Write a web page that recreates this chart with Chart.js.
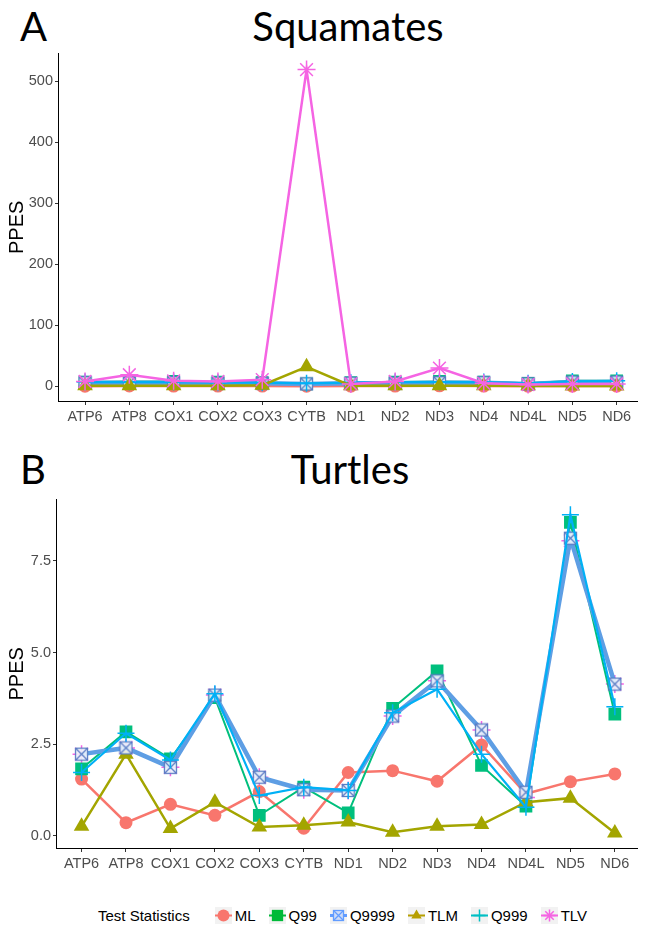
<!DOCTYPE html>
<html>
<head>
<meta charset="utf-8">
<script src="https://cdn.jsdelivr.net/npm/chart.js@4.4.0/dist/chart.umd.min.js"></script>
<style>
body{margin:0;background:#fff;width:648px;height:933px;position:relative;overflow:hidden;font-family:"Liberation Sans",Arial,sans-serif}
.big{position:absolute;font-family:Lato,"Open Sans",sans-serif;font-size:40px;line-height:40px;color:#000;white-space:nowrap}
.box{position:absolute;left:0}
#legend{position:absolute;top:907px;left:98px;display:flex;align-items:center;font-size:15px;color:#000;white-space:nowrap}
#legend .item{display:flex;align-items:center;margin-left:13px}
#legend .item:first-of-type{margin-left:25px}
#legend canvas{margin-right:3px}
</style>
</head>
<body>
<div class="big" style="left:20px;top:6px">A</div>
<div class="big" style="left:348px;top:6px;transform:translateX(-50%)">Squamates</div>
<div class="box" style="top:43px"><canvas id="chartA" width="648" height="389"></canvas></div>
<div class="big" style="left:20px;top:449px">B</div>
<div class="big" style="left:350px;top:449px;transform:translateX(-50%)">Turtles</div>
<div class="box" style="top:489px"><canvas id="chartB" width="648" height="390"></canvas></div>
<div id="legend"><span>Test Statistics</span></div>
<script>
// genes on the x axis
const genes = ['ATP6','ATP8','COX1','COX2','COX3','CYTB','ND1','ND2','ND3','ND4','ND4L','ND5','ND6'];
const yTicksA = [0, 100, 200, 300, 400, 500];
const yTicksB = [0, 2.5, 5, 7.5];

// A - Squamates
const mlA    = [0.3, 0.6, 0.5, 0.4, 0.5, 0.3, 0.4, 0.4, 0.8, 0.5, 0.3, 0.4, 0.4];
const q99A   = [7, 8, 8, 7, 6, 4, 6, 7, 8, 7, 5, 9, 9];
const q9999A = [6, 6, 6, 5, 5, 4, 5, 5, 6, 6, 4, 7, 7];
const tlmA   = [1, 1, 1, 1, 2, 32, 1, 1, 1, 1, 1, 0.5, 0.5];
const q999A  = [7, 7, 7, 6, 6, 5, 6, 7, 7, 7, 5, 8, 9];
const tlvA   = [8, 19, 9, 8, 11, 519, 4, 8, 30, 5, 3, 4, 4];

// B - Turtles
const mlB    = [1.55, 0.36, 0.86, 0.56, 1.21, 0.21, 1.73, 1.78, 1.49, 2.48, 1.15, 1.48, 1.69];
const q99B   = [1.83, 2.84, 2.10, 3.77, 0.56, 1.33, 0.63, 3.48, 4.50, 1.92, 0.81, 8.55, 3.32];
const q9999B = [2.23, 2.40, 1.87, 3.84, 1.60, 1.26, 1.24, 3.27, 4.23, 2.89, 1.19, 8.12, 4.14];
const tlmB   = [0.26, 2.23, 0.20, 0.92, 0.24, 0.29, 0.38, 0.10, 0.26, 0.31, 0.92, 1.03, 0.08];
const q999B  = [1.73, 2.80, 2.07, 3.88, 1.10, 1.33, 1.24, 3.36, 4.00, 2.23, 0.78, 8.76, 3.52];
const tlvB   = [2.23, 2.40, 1.87, 3.84, 1.60, 1.26, 1.24, 3.27, 4.23, 2.89, 1.05, 8.05, 4.14];

function boxX(size, stroke, fill){
    const c = document.createElement('canvas');
    c.width = c.height = size;
    const g = c.getContext('2d');
    g.fillStyle = fill;
    g.fillRect(1, 1, size-2, size-2);
    g.strokeStyle = stroke;
    g.lineWidth = 1.3;
    g.strokeRect(1.5, 1.5, size-3, size-3);
    g.beginPath();
    g.moveTo(2, 2); g.lineTo(size-2, size-2);
    g.moveTo(size-2, 2); g.lineTo(2, size-2);
    g.stroke();
    return c;
}
const boxImg = boxX(15, '#5b7dc4', 'rgba(240,244,252,0.9)');

const series = [
    {name:'ML',    color:'#F8766D', key:'#F8766D', style:'circle',   r:6.5, lw:2.5},
    {name:'Q99',   color:'#00BF7D', key:'#00BA38', style:'rect',     r:9,   lw:2},
    {name:'Q9999', color:'#5E9EE4', key:'#619CFF', style:boxImg,     r:7,   lw:4.5},
    {name:'TLM',   color:'#A3A500', key:'#B79F00', style:'triangle', r:9,   lw:2.5},
    {name:'Q999',  color:'#00B0F6', key:'#00BFC4', style:'cross',    r:8.5, lw:2.2},
    {name:'TLV',   color:'#F564E3', key:'#F564E3', style:'star',     r:9,   lw:2.5}
];

function makeSets(lists, orders, hideLine){
    return series.map((s, k) => ({
        label: s.name,
        data: lists[k].map((v, i) => ({x: i, y: v})),
        borderColor: s.color,
        backgroundColor: s.color,
        borderWidth: s.lw,
        showLine: s.name !== hideLine,
        pointStyle: s.style,
        pointRadius: s.r,
        pointBorderWidth: (s.style === 'cross' || s.style === 'star') ? 1.5 : 0,
        pointBorderColor: s.color,
        pointBackgroundColor: s.color,
        order: orders[k],
        tension: 0
    }));
}

function makeChart(id, sets, xr, yr, yTicks, fmt, yWidth){
    return new Chart(id, {
        type: 'line',
        data: {datasets: sets},
        options: {
            responsive: false,
            animation: false,
            layout: {padding: {top: 0, left: 5, right: 0, bottom: 0}},
            plugins: {legend: {display: false}, tooltip: {enabled: false}},
            scales: {
                x: {
                    type: 'linear', min: xr[0], max: xr[1],
                    afterBuildTicks: s => { s.ticks = genes.map((g, i) => ({value: i})); },
                    afterFit: s => { s.height = 31; },
                    ticks: {callback: v => genes[v], color: '#4d4d4d', font: {size: 14.5}, autoSkip: false, maxRotation: 0, padding: 3},
                    grid: {drawOnChartArea: false, tickLength: 4, color: '#333'},
                    border: {color: '#000', width: 1}
                },
                y: {
                    min: yr[0], max: yr[1],
                    afterBuildTicks: s => { s.ticks = yTicks.map(v => ({value: v})); },
                    afterFit: s => { s.width = yWidth; },
                    ticks: {callback: fmt, color: '#4d4d4d', font: {size: 14.5}, padding: 2},
                    grid: {drawOnChartArea: false, tickLength: 3, color: '#333'},
                    border: {color: '#000', width: 1},
                    title: {display: true, text: 'PPES', color: '#000', font: {size: 20}, padding: {top: 0, bottom: 0}}
                }
            }
        }
    });
}

makeChart('chartA', makeSets([mlA, q99A, q9999A, tlmA, q999A, tlvA], [6, 5, 4, 2, 3, 1], null),
    [-0.61, 12.47], [-24, 545], yTicksA, v => v, 53);
makeChart('chartB', makeSets([mlB, q99B, q9999B, tlmB, q999B, tlvB], [5, 4, 2, 3, 1, 6], 'TLV'),
    [-0.575, 12.51], [-0.33, 9.17], yTicksB, v => v.toFixed(1), 51);

// legend keys
const legend = document.getElementById('legend');
series.forEach(s => {
    const item = document.createElement('div');
    item.className = 'item';
    const c = document.createElement('canvas');
    c.width = c.height = 17;
    const g = c.getContext('2d');
    g.fillStyle = '#f2f2f2';
    g.fillRect(0, 0, 17, 17);
    g.strokeStyle = s.key;
    g.lineWidth = s.name === 'Q9999' ? 3 : 2;
    g.beginPath(); g.moveTo(0, 8.5); g.lineTo(17, 8.5); g.stroke();
    g.fillStyle = s.key;
    g.lineWidth = 1.5;
    const st = s.name === 'Q9999' ? boxX(13, s.key, '#cfdcf7') : s.style;
    const rad = s.style === 'rect' ? 8 : 6;
    Chart.helpers.drawPoint(g, {pointStyle: st, radius: rad, borderWidth: (st === 'cross' || st === 'star') ? 1.5 : 0, rotation: 0}, 8.5, 8.5);
    item.appendChild(c);
    const t = document.createElement('span');
    t.textContent = s.name;
    item.appendChild(t);
    legend.appendChild(item);
});
</script>
</body>
</html>
